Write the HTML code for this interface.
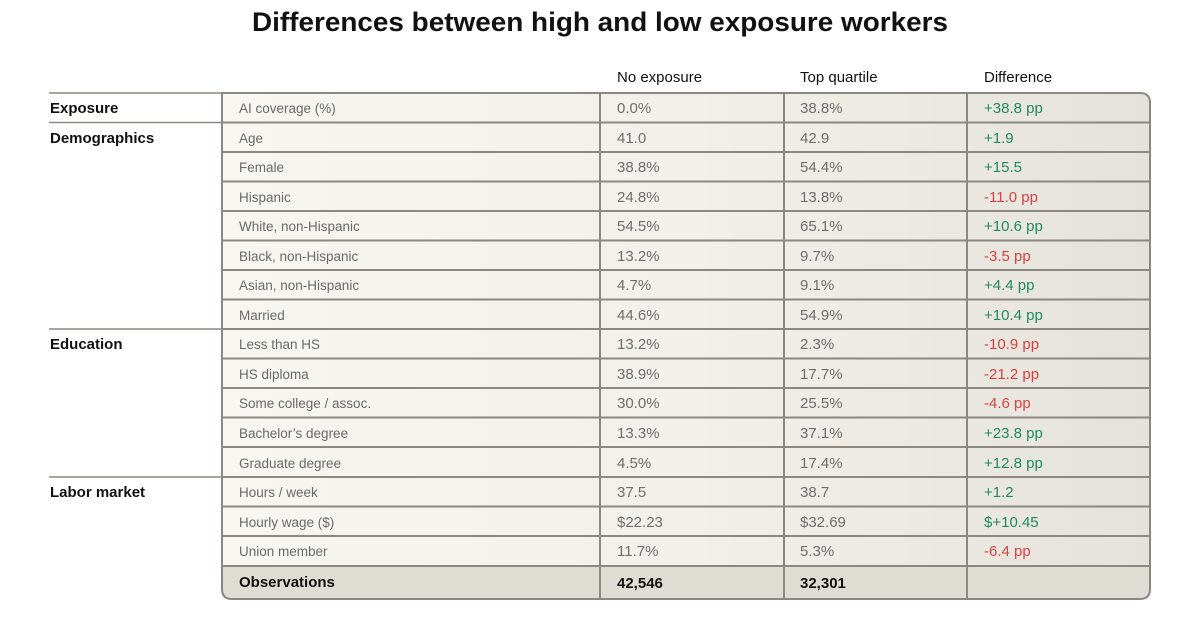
<!DOCTYPE html>
<html><head><meta charset="utf-8"><style>
html,body{margin:0;padding:0;background:#fff;}
svg{display:block;font-family:"Liberation Sans",sans-serif;}
.h{font-size:15px;fill:#111;}
.g{font-size:15px;font-weight:bold;fill:#111;}
.l{font-size:13.5px;fill:#6a6a6a;}
.v{font-size:15px;fill:#6e6e6e;}
.p{font-size:15px;fill:#1f8c5c;}
.n{font-size:15px;fill:#d8433f;}
.o{font-size:15px;fill:#111;font-weight:bold;}
</style></head><body>
<svg width="1184" height="628" viewBox="0 0 1184 628">
<defs>
<linearGradient id="bg" x1="222" x2="1150" y1="0" y2="0" gradientUnits="userSpaceOnUse">
<stop offset="0" stop-color="#f8f6f1"/><stop offset="0.5" stop-color="#f2f0ea"/><stop offset="1" stop-color="#e5e2db"/>
</linearGradient>
</defs>
<text x="600" y="31" text-anchor="middle" font-size="27" font-weight="bold" fill="#111" textLength="696" lengthAdjust="spacingAndGlyphs">Differences between high and low exposure workers</text>
<text class="h" x="617" y="82">No exposure</text>
<text class="h" x="800" y="82">Top quartile</text>
<text class="h" x="984" y="82">Difference</text>
<!-- table bg -->
<path d="M222 93 H1140 Q1150 93 1150 103 V589 Q1150 599 1140 599 H232 Q222 599 222 589 Z" fill="url(#bg)"/>
<path d="M223 566 H1149 V589 Q1149 598 1140 598 H232 Q223 598 223 589 Z" fill="#dfdcd3"/>
<!-- left lines -->
<g stroke="#8c8780" stroke-width="1.5">
<line x1="49" y1="93" x2="222" y2="93"/>
<line x1="49" y1="122.5" x2="222" y2="122.5"/>
<line x1="49" y1="329" x2="222" y2="329"/>
<line x1="49" y1="477" x2="222" y2="477"/>
</g>
<g stroke="#8c8780" stroke-width="2" fill="none">
<line x1="222" y1="122.5" x2="1150" y2="122.5"/>
<line x1="222" y1="152" x2="1150" y2="152"/>
<line x1="222" y1="181.5" x2="1150" y2="181.5"/>
<line x1="222" y1="211" x2="1150" y2="211"/>
<line x1="222" y1="240.5" x2="1150" y2="240.5"/>
<line x1="222" y1="270" x2="1150" y2="270"/>
<line x1="222" y1="299.5" x2="1150" y2="299.5"/>
<line x1="222" y1="329" x2="1150" y2="329"/>
<line x1="222" y1="358.5" x2="1150" y2="358.5"/>
<line x1="222" y1="388" x2="1150" y2="388"/>
<line x1="222" y1="417.5" x2="1150" y2="417.5"/>
<line x1="222" y1="447" x2="1150" y2="447"/>
<line x1="222" y1="477" x2="1150" y2="477"/>
<line x1="222" y1="506.5" x2="1150" y2="506.5"/>
<line x1="222" y1="536" x2="1150" y2="536"/>
<line x1="222" y1="566" x2="1150" y2="566"/>
<line x1="600" y1="93" x2="600" y2="599"/>
<line x1="784" y1="93" x2="784" y2="599"/>
<line x1="967" y1="93" x2="967" y2="599"/>
<path d="M222 93 H1140 Q1150 93 1150 103 V589 Q1150 599 1140 599 H232 Q222 599 222 589 Z"/>
</g>
<text class="g" x="50" y="113">Exposure</text>
<text class="g" x="50" y="143">Demographics</text>
<text class="g" x="50" y="349">Education</text>
<text class="g" x="50" y="497">Labor market</text>

<g>
<text class="l" x="239" y="113">AI coverage (%)</text><text class="v" x="617" y="113">0.0%</text><text class="v" x="800" y="113">38.8%</text><text class="p" x="984" y="113">+38.8 pp</text>
<text class="l" x="239" y="143">Age</text><text class="v" x="617" y="143">41.0</text><text class="v" x="800" y="143">42.9</text><text class="p" x="984" y="143">+1.9</text>
<text class="l" x="239" y="172">Female</text><text class="v" x="617" y="172">38.8%</text><text class="v" x="800" y="172">54.4%</text><text class="p" x="984" y="172">+15.5</text>
<text class="l" x="239" y="202">Hispanic</text><text class="v" x="617" y="202">24.8%</text><text class="v" x="800" y="202">13.8%</text><text class="n" x="984" y="202">-11.0 pp</text>
<text class="l" x="239" y="231">White, non-Hispanic</text><text class="v" x="617" y="231">54.5%</text><text class="v" x="800" y="231">65.1%</text><text class="p" x="984" y="231">+10.6 pp</text>
<text class="l" x="239" y="261">Black, non-Hispanic</text><text class="v" x="617" y="261">13.2%</text><text class="v" x="800" y="261">9.7%</text><text class="n" x="984" y="261">-3.5 pp</text>
<text class="l" x="239" y="290">Asian, non-Hispanic</text><text class="v" x="617" y="290">4.7%</text><text class="v" x="800" y="290">9.1%</text><text class="p" x="984" y="290">+4.4 pp</text>
<text class="l" x="239" y="320">Married</text><text class="v" x="617" y="320">44.6%</text><text class="v" x="800" y="320">54.9%</text><text class="p" x="984" y="320">+10.4 pp</text>
<text class="l" x="239" y="349">Less than HS</text><text class="v" x="617" y="349">13.2%</text><text class="v" x="800" y="349">2.3%</text><text class="n" x="984" y="349">-10.9 pp</text>
<text class="l" x="239" y="379">HS diploma</text><text class="v" x="617" y="379">38.9%</text><text class="v" x="800" y="379">17.7%</text><text class="n" x="984" y="379">-21.2 pp</text>
<text class="l" x="239" y="408">Some college / assoc.</text><text class="v" x="617" y="408">30.0%</text><text class="v" x="800" y="408">25.5%</text><text class="n" x="984" y="408">-4.6 pp</text>
<text class="l" x="239" y="438">Bachelor’s degree</text><text class="v" x="617" y="438">13.3%</text><text class="v" x="800" y="438">37.1%</text><text class="p" x="984" y="438">+23.8 pp</text>
<text class="l" x="239" y="468">Graduate degree</text><text class="v" x="617" y="468">4.5%</text><text class="v" x="800" y="468">17.4%</text><text class="p" x="984" y="468">+12.8 pp</text>
<text class="l" x="239" y="497">Hours / week</text><text class="v" x="617" y="497">37.5</text><text class="v" x="800" y="497">38.7</text><text class="p" x="984" y="497">+1.2</text>
<text class="l" x="239" y="527">Hourly wage ($)</text><text class="v" x="617" y="527">$22.23</text><text class="v" x="800" y="527">$32.69</text><text class="p" x="984" y="527">$+10.45</text>
<text class="l" x="239" y="556">Union member</text><text class="v" x="617" y="556">11.7%</text><text class="v" x="800" y="556">5.3%</text><text class="n" x="984" y="556">-6.4 pp</text>
<text class="o" x="239" y="587">Observations</text><text class="o" x="617" y="588">42,546</text><text class="o" x="800" y="588">32,301</text>
</g>
</svg>
</body></html>
